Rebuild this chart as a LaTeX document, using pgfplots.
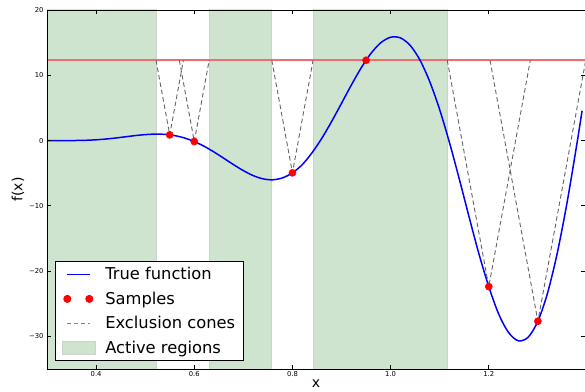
\documentclass[border=0pt]{standalone}
\usepackage{fontspec}
\setmainfont{DejaVu Sans}
\usepackage{pgfplots}
\pgfplotsset{compat=1.18}
\definecolor{actgreen}{RGB}{206,228,206}
\definecolor{actedge}{RGB}{205,210,205}
\definecolor{conegray}{RGB}{100,100,100}
\definecolor{thrred}{RGB}{242,110,110}
\begin{document}
\begin{tikzpicture}
\begin{axis}[
  at={(0pt,0pt)}, anchor=south west,
  scale only axis, width=538pt, height=359pt,
  xmin=0.3, xmax=1.396, ymin=-35, ymax=20,
  xtick={0.4,0.6,0.8,1.0,1.2}, xticklabels={0.4,0.6,0.8,1.0,1.2},
  ytick={-30,-20,-10,0,10,20}, yticklabels={−30,−20,−10,0,10,20},
  tick align=inside, tick pos=both, major tick length=4pt,
  every tick/.style={black, line width=0.8pt},
  tick label style={font=\fontsize{6.8}{8}\selectfont},
  xticklabel style={yshift=1pt},
  /pgf/number format/assume math mode=true,
  axis line style={line width=0.9pt},
  xlabel={x}, ylabel={f(x)},
  label style={font=\fontsize{14}{16}\selectfont},
  xlabel style={yshift=3.5pt},
  ylabel style={yshift=-2pt},
  axis on top,
  legend style={at={(0.0149,0.0223)}, anchor=south west, draw=black, line width=0.8pt,
    font=\fontsize{16.3}{19}\selectfont, row sep=6.5pt, inner xsep=6.5pt, inner ysep=4pt},
  legend cell align=left,
]
\addlegendimage{legend image code/.code={\path[draw=none] (-5pt,-6.5pt) rectangle (36pt,6.5pt); \draw[blue,line width=1.5pt] (0pt,0pt)--(23pt,0pt);}}
\addlegendentry{True function}
\addlegendimage{legend image code/.code={\path[draw=none] (-5pt,-6.5pt) rectangle (36pt,6.5pt); \fill[red] (0pt,0pt) circle (3.6pt); \fill[red] (22pt,0pt) circle (3.6pt);}}
\addlegendentry{Samples}
\addlegendimage{legend image code/.code={\path[draw=none] (-5pt,-6.5pt) rectangle (36pt,6.5pt); \draw[conegray!80,line width=0.9pt,dash pattern=on 4pt off 3pt] (0pt,0pt)--(23pt,0pt);}}
\addlegendentry{Exclusion cones}
\addlegendimage{legend image code/.code={\path[draw=none] (-5pt,-6.5pt) rectangle (36pt,6.5pt); \filldraw[fill=actgreen,draw=actedge,line width=0.8pt] (-5pt,-6.5pt) rectangle (28pt,6.5pt);}}
\addlegendentry{Active regions}

% active regions
\addplot[fill=actgreen, draw=actedge, line width=0.9pt, forget plot] coordinates {(0.28,-36) (0.28,21) (0.5221,21) (0.5221,-36)} -- cycle;
\addplot[fill=actgreen, draw=actedge, line width=0.9pt, forget plot] coordinates {(0.6304,-36) (0.6304,21) (0.7579,21) (0.7579,-36)} -- cycle;
\addplot[fill=actgreen, draw=actedge, line width=0.9pt, forget plot] coordinates {(0.8421,-36) (0.8421,21) (1.1154,21) (1.1154,-36)} -- cycle;

% threshold line
\addplot[thrred, line width=1.6pt, forget plot] coordinates {(0.3,12.30) (1.396,12.30)};

% exclusion cones
\addplot[conegray, line width=0.9pt, dash pattern=on 4.5pt off 3pt, forget plot] coordinates {(0.5221,12.30) (0.55,0.871) (0.5779,12.30)};
\addplot[conegray, line width=0.9pt, dash pattern=on 4.5pt off 3pt, forget plot] coordinates {(0.5696,12.30) (0.60,-0.149) (0.6304,12.30)};
\addplot[conegray, line width=0.9pt, dash pattern=on 4.5pt off 3pt, forget plot] coordinates {(0.7579,12.30) (0.80,-4.949) (0.8421,12.30)};
\addplot[conegray, line width=0.9pt, dash pattern=on 4.5pt off 3pt, forget plot] coordinates {(1.1154,12.30) (1.20,-22.38) (1.2846,12.30)};
\addplot[conegray, line width=0.9pt, dash pattern=on 4.5pt off 3pt, forget plot] coordinates {(1.2025,12.30) (1.30,-27.68) (1.3975,12.30)};

% true function
\addplot[blue, line width=1.5pt, smooth, tension=0.5, forget plot] coordinates {
(0.30,-0.016) (0.32,-0.001) (0.34,0.000) (0.36,0.008) (0.38,0.042) (0.40,0.115)
(0.42,0.233) (0.44,0.392) (0.46,0.577) (0.48,0.761) (0.50,0.909) (0.52,0.984)
(0.54,0.945) (0.56,0.758) (0.58,0.394) (0.60,-0.150) (0.62,-0.872) (0.64,-1.744)
(0.66,-2.708) (0.68,-3.691) (0.70,-4.606) (0.72,-5.369) (0.74,-5.867) (0.76,-6.013)
(0.78,-5.715) (0.80,-4.949) (0.82,-3.690) (0.84,-1.865) (0.86,0.368) (0.88,2.940)
(0.90,5.712) (0.92,8.506) (0.94,11.127) (0.96,13.356) (0.98,14.987) (1.00,15.830)
(1.02,15.727) (1.04,14.566) (1.06,12.301) (1.08,8.971) (1.10,4.717) (1.12,-0.339)
(1.14,-5.927) (1.16,-11.750) (1.18,-17.388) (1.20,-22.384) (1.22,-26.556) (1.24,-29.384)
(1.26,-30.675) (1.28,-30.143) (1.30,-27.679) (1.32,-23.274) (1.34,-17.059) (1.36,-9.255)
(1.38,-0.252) (1.39,4.56)
};

% samples
\addplot[only marks, mark=*, mark size=3.6pt, red, mark options={draw=red, fill=red}, forget plot] coordinates {
(0.55,0.871) (0.60,-0.149) (0.80,-4.949) (0.95,12.30) (1.20,-22.38) (1.30,-27.68)
};
\end{axis}
\pgfresetboundingbox
\path[use as bounding box] (-47pt,-22pt) rectangle (538pt,369pt);
\end{tikzpicture}
\end{document}
